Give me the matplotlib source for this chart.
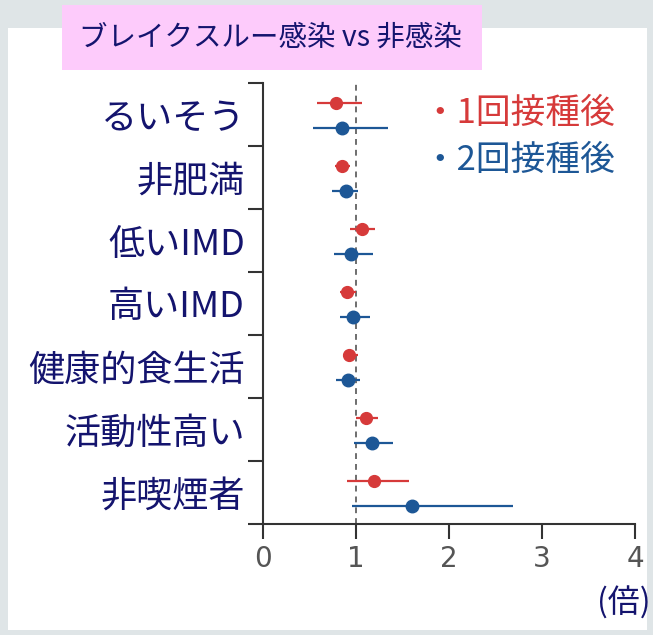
import matplotlib
matplotlib.use("Agg")
import matplotlib.pyplot as plt
from matplotlib.patches import Rectangle
import numpy as np

plt.rcParams['font.family'] = ['Noto Sans CJK JP', 'DejaVu Sans']

# Odds ratios (breakthrough infection vs no infection) with 95% CI
categories = ["るいそう", "非肥満", "低いIMD", "高いIMD", "健康的食生活", "活動性高い", "非喫煙者"]
dose1_est = [0.79, 0.85, 1.06, 0.90, 0.93, 1.11, 1.19]
dose1_lo = [0.58, 0.77, 0.94, 0.83, 0.86, 1.00, 0.90]
dose1_hi = [1.06, 0.94, 1.20, 1.00, 1.02, 1.24, 1.57]
dose2_est = [0.85, 0.89, 0.95, 0.97, 0.91, 1.17, 1.60]
dose2_lo = [0.54, 0.74, 0.76, 0.83, 0.78, 0.98, 0.96]
dose2_hi = [1.34, 1.02, 1.18, 1.15, 1.04, 1.40, 2.69]
x_ticks = [0, 1, 2, 3, 4]
legend_labels = ["・1回接種後", "・2回接種後"]
title = "ブレイクスルー感染 vs 非感染"
unit_label = "(倍)"

RED = "#d63a3a"
BLUE = "#1d5796"
NAVY = "#14146e"

W, H = 653, 635
fig = plt.figure(figsize=(W / 100, H / 100), dpi=100, facecolor="#dfe5e7")

def fx(px):
    return px / W

def fy(py):
    return 1 - py / H

# white panel and title box, behind the axes
fig.patches.append(Rectangle((fx(8), fy(630)), fx(647) - fx(8), fy(28) - fy(630),
                             transform=fig.transFigure, facecolor="white",
                             edgecolor="none", zorder=-2))
fig.patches.append(Rectangle((fx(62), fy(70)), fx(482) - fx(62), fy(5) - fy(70),
                             transform=fig.transFigure, facecolor="#fdcbfb",
                             edgecolor="none", zorder=-1))
fig.text(fx(270), fy(38), title, ha="center", va="center", fontsize=20.5, color=NAVY)

ax = fig.add_axes([fx(263), fy(524), fx(635) - fx(263), fy(83) - fy(524)])
ax.set_zorder(2)
ax.set_facecolor("none")

n = len(categories)
idx = np.arange(n)
y1 = idx + 0.32
y2 = idx + 0.71

ax.axvline(1, color="#555555", linestyle=(0, (3.5, 3)), linewidth=1.2, zorder=1)

d1 = np.array(dose1_est)
d2 = np.array(dose2_est)
ax.errorbar(d1, y1, xerr=[d1 - np.array(dose1_lo), np.array(dose1_hi) - d1],
            fmt="o", color=RED, ecolor=RED, markersize=8.5, elinewidth=1.6,
            capsize=0, zorder=3)
ax.errorbar(d2, y2, xerr=[d2 - np.array(dose2_lo), np.array(dose2_hi) - d2],
            fmt="o", color=BLUE, ecolor=BLUE, markersize=9, elinewidth=1.6,
            capsize=0, zorder=3)

ax.set_xlim(0, 4)
ax.set_ylim(n, 0)
ax.set_xticks(x_ticks)
ax.set_xticklabels([str(t) for t in x_ticks], fontsize=20, color="#555555",
                   family=["DejaVu Sans"])
ax.tick_params(axis="x", direction="out", length=11, width=1.5, color="#333333", pad=4)

ax.set_yticks(np.arange(n + 1))
ax.set_yticklabels([])
ax.tick_params(axis="y", which="major", direction="out", length=11, width=1.5,
               color="#333333")
ax.set_yticks(idx + 0.5, minor=True)
ax.set_yticklabels(categories, minor=True, fontsize=26, color=NAVY)
ax.tick_params(axis="y", which="minor", length=0, pad=13)

for side in ["top", "right"]:
    ax.spines[side].set_visible(False)
for side in ["left", "bottom"]:
    ax.spines[side].set_color("#333333")
    ax.spines[side].set_linewidth(1.5)

fig.text(fx(422), fy(113), legend_labels[0], ha="left", va="center",
         fontsize=25, color=RED)
fig.text(fx(422), fy(160), legend_labels[1], ha="left", va="center",
         fontsize=25, color=BLUE)
fig.text(fx(651), fy(603), unit_label, ha="right", va="center",
         fontsize=23, color=NAVY)

fig.savefig("out.png", dpi=100, facecolor=fig.get_facecolor())
